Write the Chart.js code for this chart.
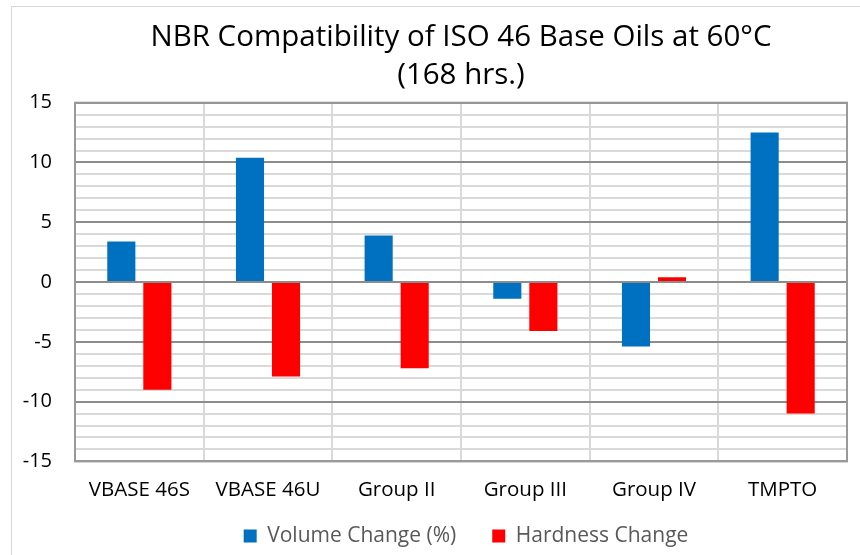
<!DOCTYPE html>
<html>
<head>
<meta charset="utf-8">
<script src="https://cdn.jsdelivr.net/npm/chart.js@4"></script>
<style>
  html, body { margin: 0; padding: 0; background: #fff; }
  #wrap { position: relative; width: 860px; height: 555px; }
  #frame { position: absolute; left: 11px; top: 6px; width: 900px; height: 560px; border: 1px solid #d9d9d9; box-sizing: border-box; pointer-events: none; }
</style>
</head>
<body>
<div id="wrap">
  <canvas id="chart" width="860" height="555"></canvas>
  <div id="frame"></div>
</div>
<script>
'use strict';

// ── data ──
const categories     = ['VBASE 46S', 'VBASE 46U', 'Group II', 'Group III', 'Group IV', 'TMPTO'];
const volumeChange   = [3.4, 10.4, 3.9, -1.4, -5.4, 12.5];
const hardnessChange = [-9.0, -7.9, -7.2, -4.1, 0.4, -11.0];
const titleLines     = ['NBR Compatibility of ISO 46 Base Oils at 60°C', '(168 hrs.)'];

const FONT = '"Open Sans", sans-serif';
const TITLE_X = 461;       // title centre (chart frame is wider than the picture)
const LEGEND_X = 466;      // legend centre
const LEGEND_PAD = 36;     // horizontal gap between legend items
const LEGEND_Y = 536;      // legend text centre line

// plot border (top/right edges too)
const plotBorder = {
    id: 'plotBorder',
    afterDatasetsDraw(chart) {
        const a = chart.chartArea, c = chart.ctx;
        c.save();
        c.strokeStyle = '#999999';
        c.lineWidth = 2;
        c.strokeRect(a.left, a.top, a.right - a.left, a.bottom - a.top);
        c.restore();
    }
};

// move title / legend boxes after layout
const recentre = {
    id: 'recentre',
    afterLayout(chart) {
        const shift = (b, cx) => {
            if (!b) return;
            const dx = cx - (b.left + b.right) / 2;
            b.left += dx; b.right += dx;
        };
        shift(chart.titleBlock, TITLE_X);
        shift(chart.legend, LEGEND_X);
        const lg = chart.legend;
        if (lg) {
            lg.top = LEGEND_Y - LEGEND_PAD - 21 / 2;
            lg.bottom = chart.height;   // legend clips to its own box
        }
    }
};

new Chart(document.getElementById('chart'), {
    type: 'bar',
    data: {
        labels: categories,
        datasets: [
            { label: 'Volume Change (%)', data: volumeChange, backgroundColor: '#0070C0',
              categoryPercentage: 0.56, barPercentage: 0.78 },
            { label: 'Hardness Change', data: hardnessChange, backgroundColor: '#FF0000',
              categoryPercentage: 0.56, barPercentage: 0.78 }
        ]
    },
    options: {
        responsive: false,
        animation: false,
        layout: { padding: { left: 11, right: 13, top: 0, bottom: 0 } },
        plugins: {
            title: {
                display: true, text: titleLines, color: '#000',
                font: { family: FONT, size: 29.5, weight: 'normal', lineHeight: 1.3 },
                padding: { top: 18, bottom: 8 }
            },
            legend: {
                position: 'bottom',
                maxHeight: 37,
                labels: { color: '#595959', font: { family: FONT, size: 21 },
                          boxWidth: 13, boxHeight: 13, padding: LEGEND_PAD }
            },
            tooltip: { enabled: false }
        },
        scales: {
            x: {
                grid: { color: '#d9d9d9', lineWidth: 2, offset: true, drawTicks: false },
                border: { color: '#999999', width: 2 },
                ticks: { color: '#000', font: { family: FONT, size: 20.5 }, padding: 16, maxRotation: 0 }
            },
            y: {
                min: -15, max: 15,
                afterFit(scale) { scale.width = 64; },
                grid: {
                    drawTicks: false, lineWidth: 2,
                    color: ctx => (ctx.tick && ctx.tick.value % 5 === 0) ? '#8c8c8c' : '#d9d9d9'
                },
                border: { color: '#999999', width: 2 },
                ticks: {
                    stepSize: 1, autoSkip: false, padding: 23, color: '#000',
                    font: { family: FONT, size: 20 },
                    callback: v => (v % 5 === 0 ? v : '')
                }
            }
        }
    },
    plugins: [plotBorder, recentre]
});
</script>
</body>
</html>
